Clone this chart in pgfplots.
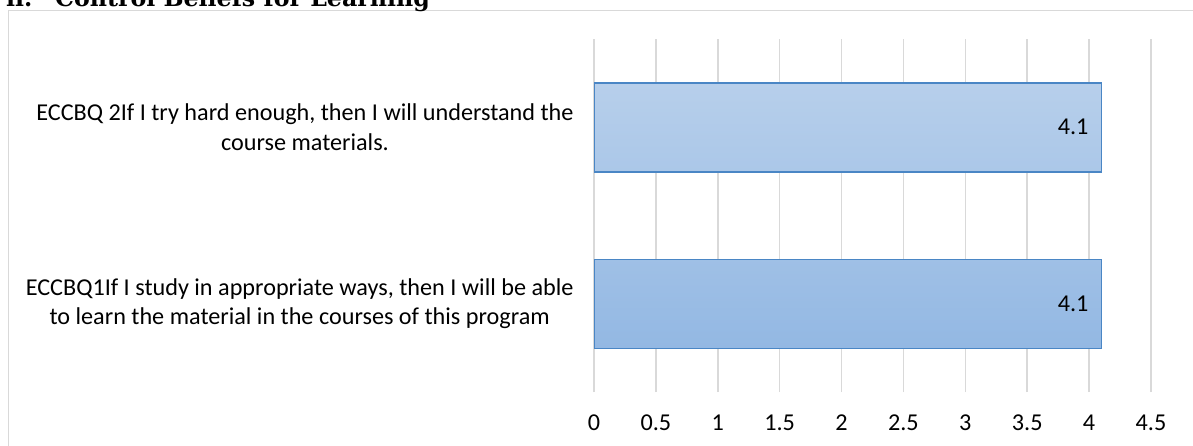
\documentclass[border=0pt]{standalone}
\usepackage{pgfplots}
\pgfplotsset{compat=1.18}
\usepackage{fontspec}
\setmainfont{Carlito}
\newfontfamily\titlefont{DejaVu Serif}

\definecolor{gridgray}{HTML}{D9D9D9}
\definecolor{barline}{HTML}{4A86C5}
\definecolor{bartop}{HTML}{B7CFEB}
\definecolor{barbottom}{HTML}{93B8E3}

\pgfplotsset{/pgf/number format/assume math mode=true}

\begin{document}
\begin{tikzpicture}[x=1pt,y=1pt]
\useasboundingbox (0,0) rectangle (1193,-445);
\clip (0,0) rectangle (1193,-445);
% chart frame
\draw[gridgray, line width=1.5pt] (8.5,-10.5) rectangle (1210,-470);
% section heading
\node[anchor=base west, inner sep=0pt, font=\titlefont\bfseries\fontsize{23.7}{28}\selectfont] at (6,-6.5) {ii.};
\node[anchor=base west, inner sep=0pt, font=\titlefont\bfseries\fontsize{23.7}{28}\selectfont] at (55,-6.5) {Control Beliefs for Learning};
\begin{axis}[
  at={(594pt,-392pt)}, anchor=south west,
  width=557pt, height=353pt, scale only axis,
  xbar, bar width=89pt,
  xmin=0, xmax=4.5, ymin=0.5, ymax=2.5,
  xtick={0,0.5,1,1.5,2,2.5,3,3.5,4,4.5},
  ytick={1,2},
  yticklabels={{ECCBQ1If I study in appropriate ways, then I will be able\\to learn the material in the courses of this program},
               {ECCBQ 2If I try hard enough, then I will understand the\\course materials.}},
  yticklabel style={align=center, inner sep=0pt, xshift=-16pt, font=\fontsize{24.2}{29.5}\selectfont},
  xticklabel style={inner sep=0pt, yshift=-23pt, font=\fontsize{24.2}{29.5}\selectfont},
  axis line style={draw=none},
  tick style={draw=none},
  xmajorgrids, grid style={gridgray, line width=1.5pt},
  nodes near coords,
  nodes near coords style={anchor=east, xshift=-9pt, font=\fontsize{24.2}{29.5}\selectfont, text=black},
]
\addplot[draw=barline, line width=1.5pt, top color=bartop, bottom color=barbottom]
  coordinates {(4.1,1) (4.1,2)};
\end{axis}
\end{tikzpicture}
\end{document}
